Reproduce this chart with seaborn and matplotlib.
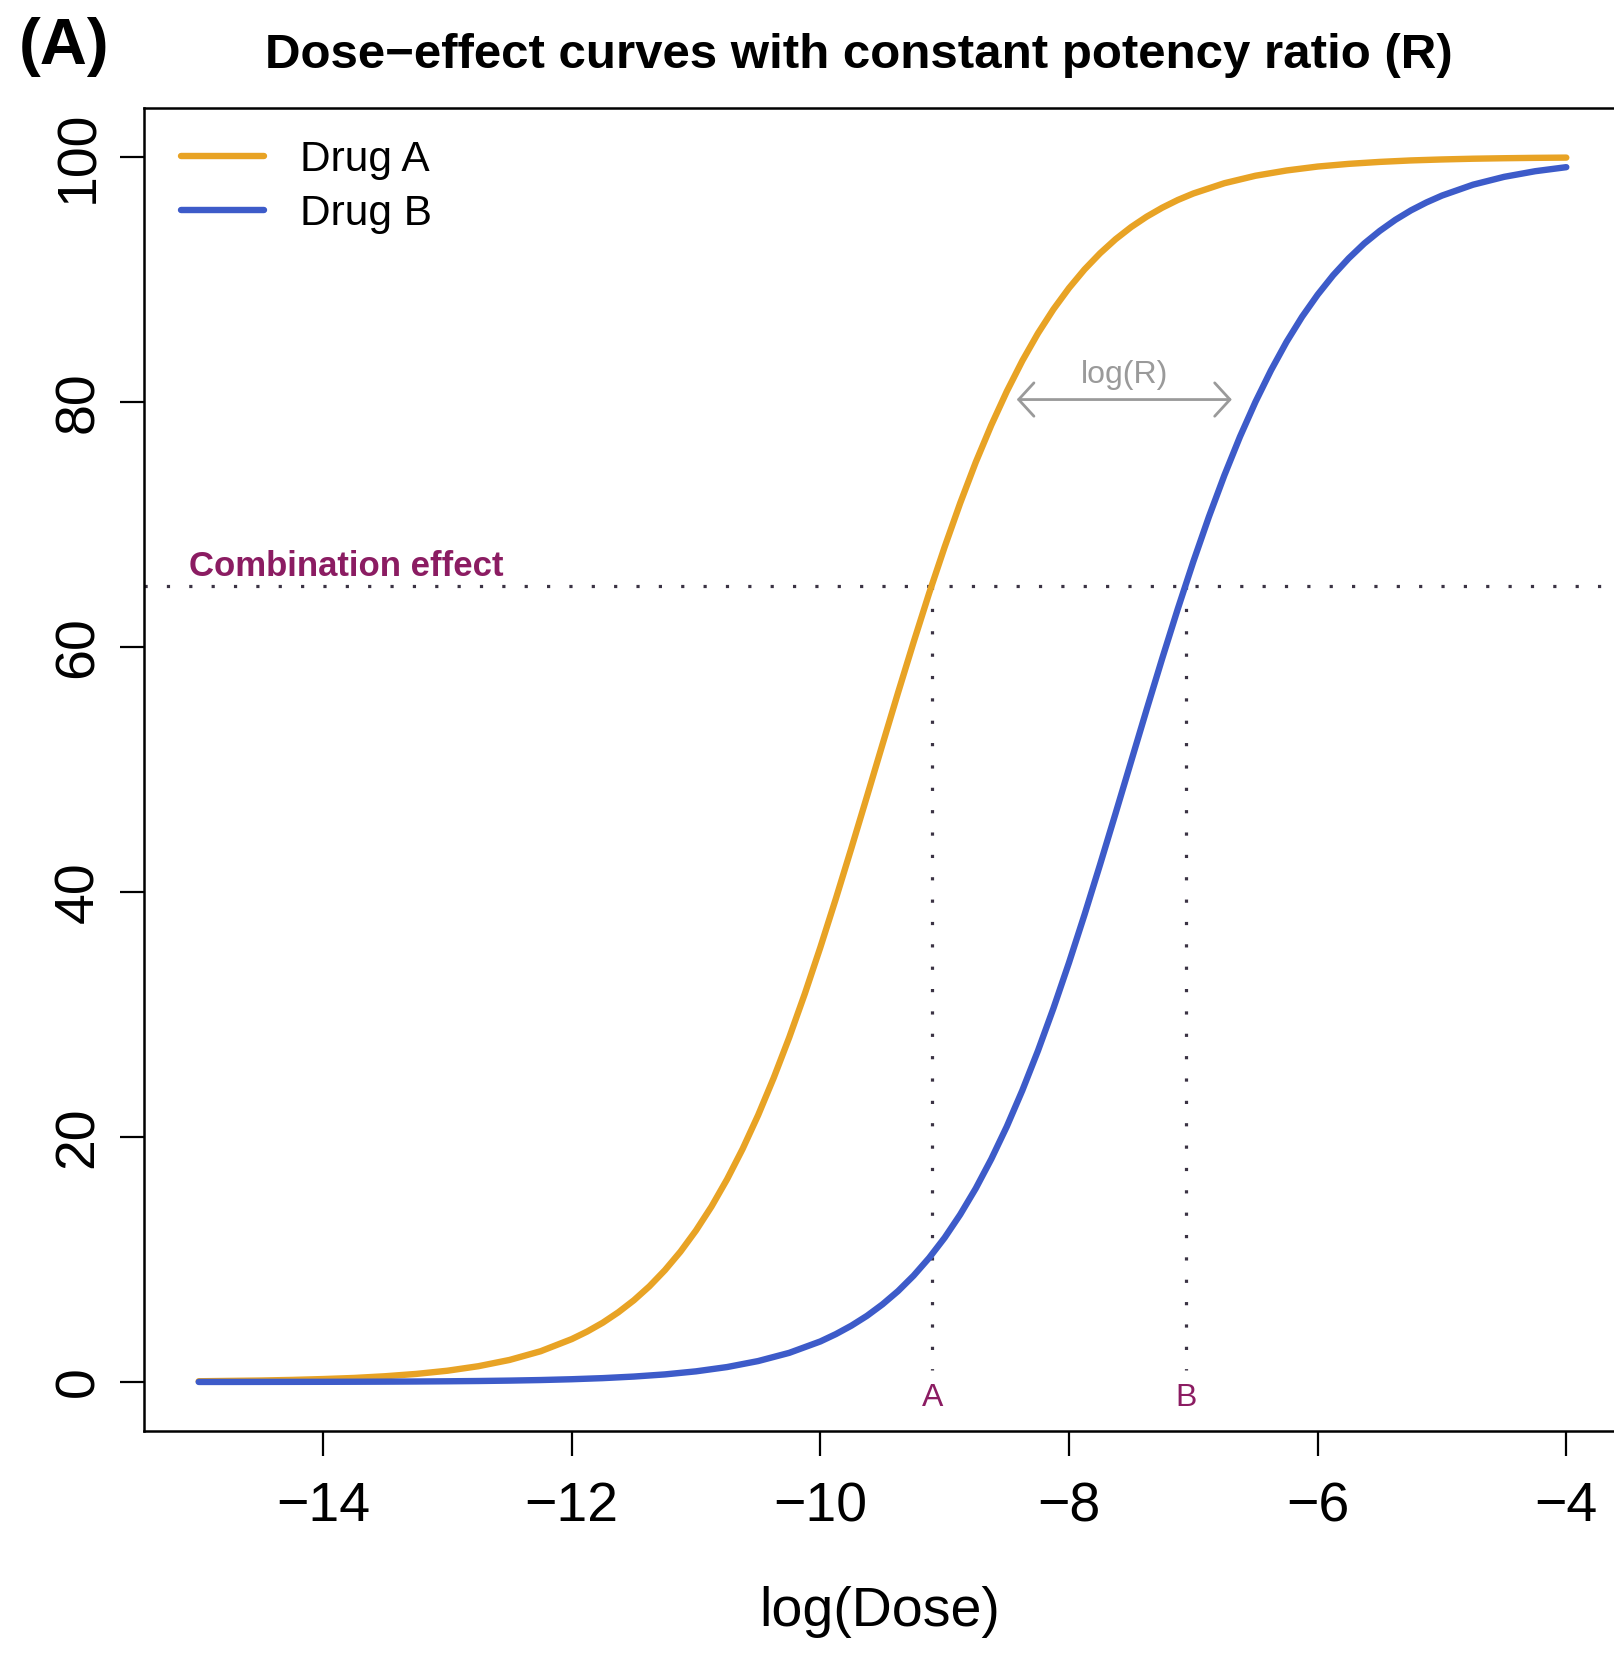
import matplotlib
matplotlib.use("Agg")
import matplotlib.pyplot as plt
import pandas as pd
import seaborn as sns

# ---------------- data ----------------
log_dose_a = [-15.0, -14.75, -14.5, -14.25, -14.0, -13.75, -13.5, -13.25, -13.0,
              -12.75, -12.5, -12.25, -12.0, -11.875, -11.75, -11.625, -11.5,
              -11.375, -11.25, -11.125, -11.0, -10.875, -10.75, -10.625, -10.5,
              -10.375, -10.25, -10.125, -10.0, -9.875, -9.75, -9.625, -9.5,
              -9.375, -9.25, -9.125, -9.0, -8.875, -8.75, -8.625, -8.5, -8.375,
              -8.25, -8.125, -8.0, -7.875, -7.75, -7.625, -7.5, -7.375, -7.25,
              -7.125, -7.0, -6.75, -6.5, -6.25, -6.0, -5.75, -5.5, -5.25, -5.0,
              -4.75, -4.5, -4.25, -4.0]
drug_a_effect = [0.06, 0.09, 0.12, 0.17, 0.24, 0.33, 0.47, 0.66, 0.92,
                 1.29, 1.80, 2.51, 3.50, 4.12, 4.84, 5.69, 6.67,
                 7.81, 9.13, 10.64, 12.37, 14.33, 16.55, 19.03, 21.79,
                 24.83, 28.13, 31.69, 35.48, 39.46, 43.59, 47.80, 52.05,
                 56.27, 60.39, 64.39, 68.17, 71.75, 75.08, 78.11, 80.87, 83.37,
                 85.60, 87.57, 89.30, 90.82, 92.14, 93.29, 94.28, 95.13, 95.86,
                 96.49, 97.02, 97.86, 98.47, 98.90, 99.22, 99.44, 99.60, 99.72,
                 99.80, 99.86, 99.90, 99.93, 99.95]

log_dose_b = [-15.0, -14.75, -14.5, -14.25, -14.0, -13.75, -13.5, -13.25, -13.0,
              -12.75, -12.5, -12.25, -12.0, -11.75, -11.5, -11.25, -11.0,
              -10.75, -10.5, -10.25, -10.0, -9.875, -9.75, -9.625, -9.5, -9.375,
              -9.25, -9.125, -9.0, -8.875, -8.75, -8.625, -8.5, -8.375, -8.25,
              -8.125, -8.0, -7.875, -7.75, -7.625, -7.5, -7.375, -7.25, -7.125,
              -7.0, -6.875, -6.75, -6.625, -6.5, -6.375, -6.25, -6.125, -6.0,
              -5.875, -5.75, -5.625, -5.5, -5.375, -5.25, -5.125, -5.0, -4.75,
              -4.5, -4.25, -4.0]
drug_b_effect = [0.004, 0.005, 0.008, 0.011, 0.015, 0.021, 0.029, 0.041, 0.058,
                 0.081, 0.114, 0.16, 0.226, 0.316, 0.444, 0.62, 0.87,
                 1.22, 1.71, 2.38, 3.31, 3.91, 4.60, 5.40, 6.34, 7.42,
                 8.68, 10.13, 11.78, 13.67, 15.80, 18.20, 20.86, 23.81, 27.03,
                 30.51, 34.23, 38.15, 42.24, 46.43, 50.67, 54.91, 59.07, 63.11,
                 66.97, 70.62, 74.02, 77.16, 80.01, 82.59, 84.91, 86.96, 88.76,
                 90.35, 91.73, 92.94, 93.97, 94.87, 95.64, 96.29, 96.85, 97.74,
                 98.38, 98.84, 99.17]

drug_names = ["Drug A", "Drug B"]
combination_effect = 65
dose_a_at_combination = -9.10
dose_b_at_combination = -7.06
log_r_arrow_start = -8.42
log_r_arrow_end = -6.69
log_r_arrow_level = 80.2

x_ticks = [-14, -12, -10, -8, -6, -4]
y_ticks = [0, 20, 40, 60, 80, 100]

# ---------------- styling ----------------
sns.set_theme(style="ticks")
plt.rcParams["font.family"] = ["Liberation Sans", "DejaVu Sans"]
plt.rcParams["axes.unicode_minus"] = True
plt.rcParams["text.color"] = "black"
plt.rcParams["axes.labelcolor"] = "black"
plt.rcParams["xtick.color"] = "black"
plt.rcParams["ytick.color"] = "black"

ORANGE = "#E8A325"
BLUE = "#3D5BC9"
PURPLE = "#8B1C62"
DOTS = "#3b3344"
GREY = "#9a9a9a"

W, H = 1614, 1653
fig = plt.figure(figsize=(W / 100, H / 100), dpi=100)
ax_left, ax_right, ax_top, ax_bottom = 144, 1621, 108, 1431
ax = fig.add_axes([ax_left / W, 1 - ax_bottom / H,
                   (ax_right - ax_left) / W, (ax_bottom - ax_top) / H])

df = pd.DataFrame({
    "log_dose": log_dose_a + log_dose_b,
    "effect": drug_a_effect + drug_b_effect,
    "drug": [drug_names[0]] * len(log_dose_a) + [drug_names[1]] * len(log_dose_b),
})

sns.lineplot(data=df, x="log_dose", y="effect", hue="drug",
             palette={drug_names[0]: ORANGE, drug_names[1]: BLUE},
             lw=4.6, estimator=None, ax=ax, zorder=3)

ax.set_xlim(-15.44, -3.56)
ax.set_ylim(-4, 104)

# combination effect lines
ax.axhline(combination_effect, color=DOTS, lw=2.3, linestyle=(0, (1, 6)), zorder=2)
for xv in (dose_a_at_combination, dose_b_at_combination):
    ax.plot([xv, xv], [combination_effect, 1.0], color=DOTS, lw=2.3,
            linestyle=(0, (1, 6)), zorder=2)

ax.text(-15.08, 65.8, "Combination effect", color=PURPLE, fontsize=25,
        fontweight="bold", ha="left", va="baseline")
ax.text(dose_a_at_combination, -1.3, "A", color=PURPLE, fontsize=23,
        ha="center", va="center")
ax.text(dose_b_at_combination, -1.3, "B", color=PURPLE, fontsize=23,
        ha="center", va="center")

# log(R) arrow
ax.annotate("", xy=(log_r_arrow_start, log_r_arrow_level),
            xytext=(log_r_arrow_end, log_r_arrow_level),
            arrowprops=dict(arrowstyle="<->,head_length=0.55,head_width=0.6",
                            color=GREY, lw=2, mutation_scale=20,
                            shrinkA=0, shrinkB=0))
ax.text((log_r_arrow_start + log_r_arrow_end) / 2, 82.2, "log(R)", color=GREY,
        fontsize=23, ha="center", va="center")

# axes, ticks
ax.set_xticks(x_ticks)
ax.set_yticks(y_ticks)
ax.set_xticklabels([f"\u2212{abs(v)}" for v in x_ticks])
ax.set_yticklabels([str(v) for v in y_ticks])
ax.tick_params(axis="x", direction="out", length=18, width=1.6, labelsize=40,
               pad=18, color="black", labelcolor="black")
ax.tick_params(axis="y", direction="out", length=17, width=1.6, labelsize=40,
               pad=11, color="black", labelcolor="black")
for lab in ax.get_yticklabels():
    lab.set_rotation(90)
    lab.set_va("center")
    lab.set_ha("right")
for sp in ax.spines.values():
    sp.set_linewidth(1.8)
    sp.set_color("black")
    sp.set_visible(True)

ax.set_xlabel("log(Dose)", fontsize=40, color="black")
ax.xaxis.label.set_va("center")
ax.xaxis.set_label_coords((880 - ax_left) / (ax_right - ax_left),
                          (ax_bottom - 1612) / (ax_bottom - ax_top))
ax.set_ylabel("")

# legend
handles, labels = ax.get_legend_handles_labels()
leg = ax.legend(handles, labels, loc="upper left",
                bbox_to_anchor=((181 - ax_left) / (ax_right - ax_left),
                                1 - (140 - ax_top) / (ax_bottom - ax_top)),
                frameon=False, fontsize=30.5, handlelength=1.96,
                handletextpad=0.85, labelspacing=0.33, borderpad=0,
                borderaxespad=0, labelcolor="black")
for lh in leg.get_lines():
    lh.set_linewidth(4.6)

# titles
fig.text(859 / W, 1 - 55 / H, "Dose\u2212effect curves with constant potency ratio (R)",
         fontsize=35.5, fontweight="bold", ha="center", va="center", color="black")
fig.text(19 / W, 1 - 47 / H, "(A)", fontsize=47, fontweight="bold",
         ha="left", va="center", color="black")

fig.savefig("out.png", dpi=100, facecolor="white")
